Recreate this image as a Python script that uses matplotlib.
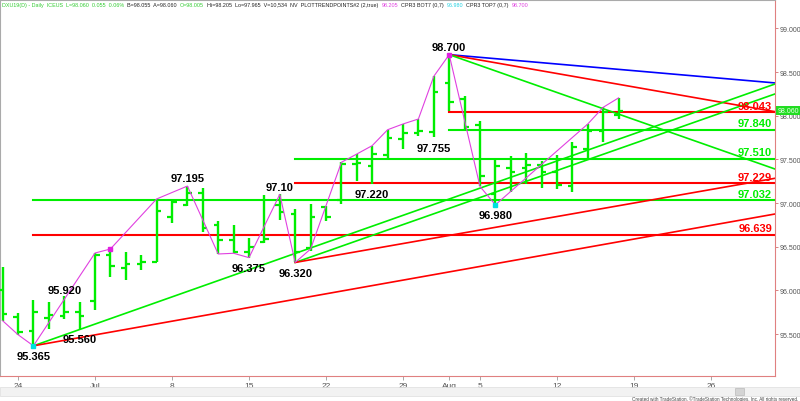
import matplotlib
matplotlib.use('Agg')
import matplotlib.pyplot as plt
from matplotlib.patches import Rectangle
import matplotlib.transforms as mtransforms

plt.rcParams['font.family'] = ['Liberation Sans', 'DejaVu Sans']

# daily bars, Jun 21 .. Aug 16 (trading-day index 0..40)
dates = ['Jun 21', 'Jun 24', 'Jun 25', 'Jun 26', 'Jun 27', 'Jun 28',
         'Jul 1', 'Jul 2', 'Jul 3', 'Jul 4', 'Jul 5',
         'Jul 8', 'Jul 9', 'Jul 10', 'Jul 11', 'Jul 12',
         'Jul 15', 'Jul 16', 'Jul 17', 'Jul 18', 'Jul 19',
         'Jul 22', 'Jul 23', 'Jul 24', 'Jul 25', 'Jul 26',
         'Jul 29', 'Jul 30', 'Jul 31', 'Aug 1', 'Aug 2',
         'Aug 5', 'Aug 6', 'Aug 7', 'Aug 8', 'Aug 9',
         'Aug 12', 'Aug 13', 'Aug 14', 'Aug 15', 'Aug 16']
opens = [96.00, 95.70, 95.54, 95.68, 95.71, 95.75, 95.88, 96.40, 96.26, 96.30,
         96.32, 96.84, 96.98, 97.12, 96.75, 96.58, 96.44, 96.55, 96.98, 96.88,
         96.49, 96.95, 97.03, 97.45, 97.43, 97.55, 97.73, 97.80, 97.81, 98.38,
         98.19, 97.89, 97.10, 97.40, 97.40, 97.44, 97.36, 97.20, 97.62, 97.82, 98.005]
highs = [96.265, 95.738, 95.893, 95.864, 95.940, 95.864, 96.428, 96.474, 96.443, 96.405,
         97.047, 97.028, 97.195, 97.170, 96.790, 96.749, 96.597, 97.093, 97.100, 96.932,
         96.990, 96.970, 97.467, 97.562, 97.658, 97.840, 97.906, 97.963, 98.452, 98.700,
         98.230, 97.937, 97.517, 97.543, 97.574, 97.486, 97.550, 97.703, 97.906, 98.097, 98.205]
lows = [95.653, 95.493, 95.365, 95.558, 95.672, 95.560, 95.780, 96.150, 96.123, 96.237,
        96.320, 96.772, 96.970, 96.665, 96.417, 96.425, 96.375, 96.540, 96.810, 96.320,
        96.455, 96.800, 96.990, 97.257, 97.220, 97.517, 97.620, 97.765, 97.755, 98.050,
        97.830, 97.190, 96.980, 97.124, 97.215, 97.170, 97.160, 97.124, 97.497, 97.696, 97.965]
closes = [95.73, 95.52, 95.75, 95.72, 95.75, 95.71, 96.40, 96.28, 96.30, 96.33,
          96.91, 97.01, 97.12, 96.72, 96.58, 96.44, 96.50, 96.59, 96.90, 96.44,
          96.84, 96.84, 97.45, 97.46, 97.56, 97.75, 97.80, 97.83, 98.27, 98.155,
          97.87, 97.31, 97.43, 97.36, 97.44, 97.36, 97.21, 97.64, 97.83, 98.04, 98.06]

tick_days = [1, 6, 11, 16, 21, 26, 29, 31, 36, 41, 46]
tick_labels = ['24', 'Jul', '8', '15', '22', '29', 'Aug', '5', '12', '19', '26']
price_ticks = [95.5, 96.0, 96.5, 97.0, 97.5, 98.0, 98.5, 99.0]

# swing line
zz_days = [0, 1, 2, 6, 7, 10, 12, 14, 15, 16, 18, 19, 20, 21, 22, 23, 24, 25,
           26, 27, 28, 29, 31, 32, 38, 39, 40]
zz_prices = [95.653, 95.493, 95.365, 96.428, 96.474, 97.047, 97.195, 96.417, 96.425,
             96.375, 97.100, 96.320, 96.474, 96.970, 97.467, 97.562, 97.658, 97.840,
             97.906, 97.963, 98.452, 98.700, 97.190, 96.980, 97.906, 98.097, 98.205]

# pivot labels
pivot_days = [2, 4, 5, 12, 16, 18, 19, 24, 28, 29, 32]
pivot_values = [95.365, 95.920, 95.560, 97.195, 96.375, 97.10, 96.320, 97.220, 97.755, 98.700, 96.980]
pivot_texts = ['95.365', '95.920', '95.560', '97.195', '96.375', '97.10', '96.320',
               '97.220', '97.755', '98.700', '96.980']
pivot_above = [False, True, False, True, False, True, False, False, False, True, False]

# horizontal retracement levels
level_values = [98.043, 97.840, 97.510, 97.229, 97.032, 96.639]
level_texts = ['98.043', '97.840', '97.510', '97.229', '97.032', '96.639']
level_colors = ['#ff0000', '#00ee00', '#00ee00', '#ff0000', '#00ee00', '#ff0000']
level_start = [29, 29, 19, 19, 2, 2]

# angled trend lines (start day, start price, price at right edge)
trend_start_day = [29, 29, 29, 2, 19, 2, 19]
trend_start_price = [98.700, 98.700, 98.700, 95.365, 96.320, 95.365, 96.320]
trend_end_price = [98.376, 98.047, 97.390, 98.364, 98.250, 96.875, 97.284]
trend_colors = ['#0000ff', '#ff0000', '#00ee00', '#00ee00', '#00ee00', '#ff0000', '#ff0000']

last_price = 98.060

x_left, x_right = -0.169, 50.156

fig = plt.figure(figsize=(8, 4.02), dpi=100)
ax = fig.add_axes([0, 25 / 402, 775 / 800, 376 / 402])
ax.set_xlim(x_left, x_right)
ax.set_ylim(95.0195, 99.326)

bar_color = '#00ee00'
days = list(range(len(dates)))
ax.vlines(days, lows, highs, color=bar_color, lw=1.7, zorder=3)
ax.hlines(opens, [d - 0.3 for d in days], days, color=bar_color, lw=1.6, zorder=3)
ax.hlines(closes, days, [d + 0.3 for d in days], color=bar_color, lw=1.6, zorder=3)

for v, c, s in zip(level_values, level_colors, level_start):
    ax.plot([s, x_right], [v, v], color=c, lw=1.5, zorder=2)
for v, t, c in zip(level_values, level_texts, level_colors):
    ax.annotate(t, (x_right, v), xytext=(-2, 1), textcoords='offset points',
                ha='right', va='bottom', color=c, fontsize=8, fontweight='bold', zorder=5)

for sd, sp, ep, c in zip(trend_start_day, trend_start_price, trend_end_price, trend_colors):
    ax.plot([sd, x_right], [sp, ep], color=c, lw=1.2, zorder=2)

ax.plot(zz_days, zz_prices, color='#e040e0', lw=0.8, zorder=4)
ax.plot([2, 32], [95.365, 96.980], ls='none', marker='s', ms=2.5, color='#00e0e0', zorder=5)
ax.plot([7, 29], [96.474, 98.700], ls='none', marker='s', ms=2.5, color='#e020e0', zorder=5)

for d, v, t, up in zip(pivot_days, pivot_values, pivot_texts, pivot_above):
    ax.annotate(t, (d, v), xytext=(0, 2 if up else -4), textcoords='offset points',
                ha='center', va='bottom' if up else 'top', fontsize=8,
                fontweight='bold', color='black', zorder=6)

# axes styling
ax.yaxis.tick_right()
ax.set_yticks(price_ticks)
ax.set_yticklabels(['%.3f' % p for p in price_ticks])
ax.tick_params(axis='y', length=2, width=0.6, color='#d07070', labelsize=5,
               labelcolor='#555555', pad=1)
ax.set_xticks(tick_days)
ax.set_xticklabels(tick_labels)
ax.tick_params(axis='x', length=3, width=0.6, color='#999999', labelsize=6,
               labelcolor='#555555', pad=1)
ax.spines['right'].set_color('#e08080')
ax.spines['bottom'].set_color('#e08080')
ax.spines['left'].set_color('#aaaaaa')
ax.spines['top'].set_color('#aaaaaa')
for s in ax.spines.values():
    s.set_linewidth(0.8)

# last price marker on the price scale
trans = mtransforms.blended_transform_factory(ax.transAxes, ax.transData)
ax.text(1.003, last_price, '%.3f' % last_price, transform=trans, ha='left', va='center',
        fontsize=5, color='#e8ffe8', clip_on=False,
        bbox=dict(boxstyle='square,pad=0.15', fc='#22dd22', ec='none'), zorder=7)

# header line, pieces chained left to right
header = [
    ('DXU19(D) - Daily  ICEUS  L=98.060  0.055  0.06%', '#33cc33'),
    ('B=98.055  A=98.060', '#222222'),
    ('O=98.005', '#33cc33'),
    ('Hi=98.205  Lo=97.965  V=10,534  NV  PLOTTRENDPOINTS#2 (2,true)', '#222222'),
    ('98.205', '#e040e0'),
    ('CPR3 BOT7 (0,7)', '#222222'),
    ('96.980', '#20d0e0'),
    ('CPR3 TOP7 (0,7)', '#222222'),
    ('98.700', '#e040e0'),
]
renderer = fig.canvas.get_renderer()
px = 2.0
for txt, col in header:
    t = fig.text(px / 800, 1 - 5.5 / 402, txt, fontsize=3.9, color=col, ha='left', va='center')
    px = t.get_window_extent(renderer).x1 + 3

# scroll bar and credit
fig.patches.append(Rectangle((0, 1 - 397 / 402), 1, 9 / 402, transform=fig.transFigure,
                             fc='#f2f2f2', ec='#dddddd', lw=0.5))
fig.patches.append(Rectangle((735 / 800, 1 - 396 / 402), 9 / 800, 7 / 402,
                             transform=fig.transFigure, fc='#d4d4d4', ec='#bbbbbb', lw=0.5))
fig.text(798 / 800, 1 - 399.5 / 402,
         'Created with TradeStation. \u00a9TradeStation Technologies, Inc. All rights reserved.',
         fontsize=3.3, color='#444444', ha='right', va='center')

plt.savefig('out.png', dpi=100, facecolor='white')
